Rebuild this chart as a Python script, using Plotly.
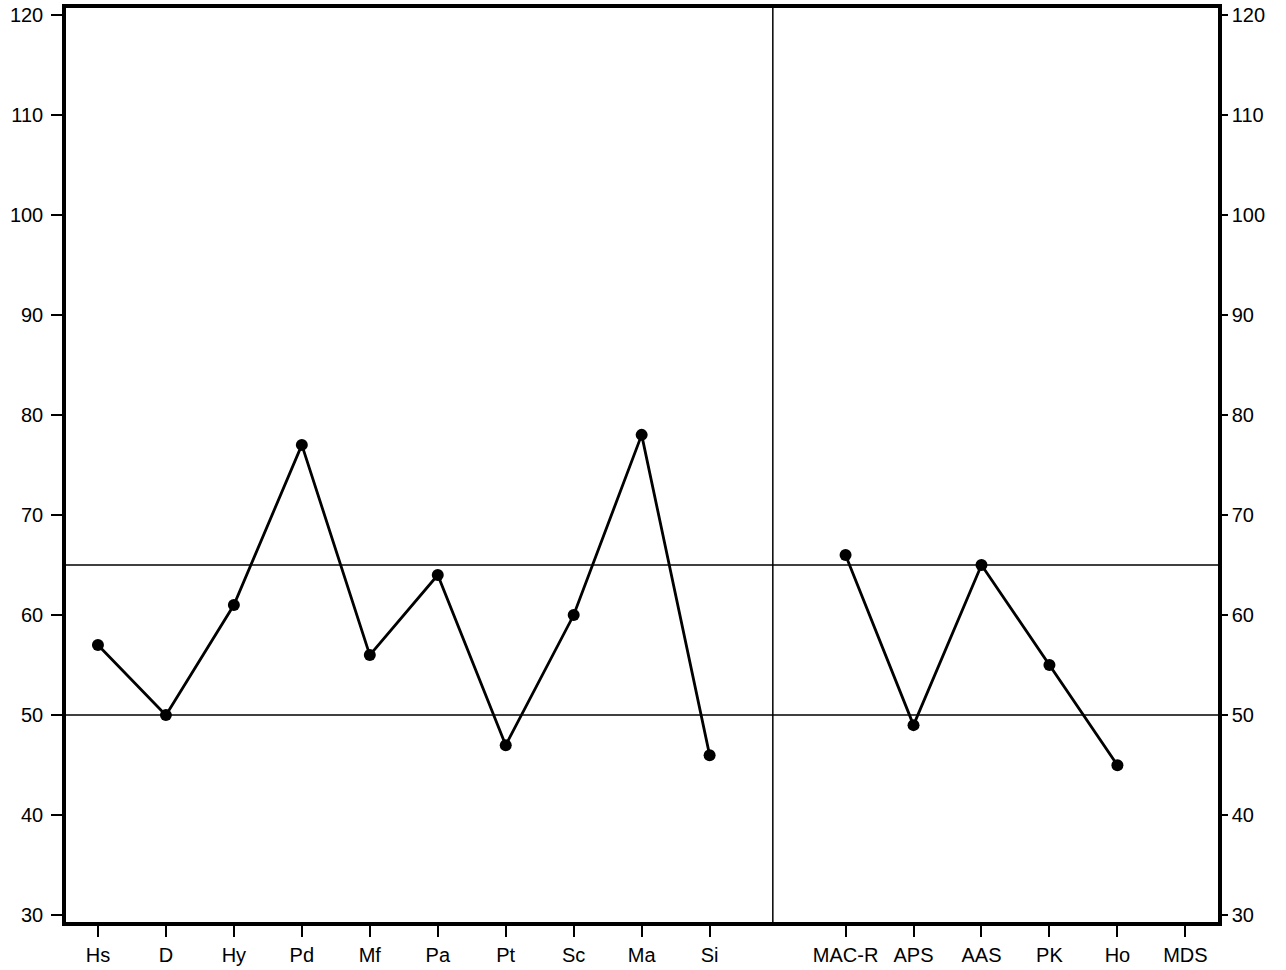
import plotly.graph_objects as go

# profile scales, left block and right block split by a blank slot
categories = ["Hs", "D", "Hy", "Pd", "Mf", "Pa", "Pt", "Sc", "Ma", "Si",
              "", "MAC-R", "APS", "AAS", "PK", "Ho", "MDS"]
left_scores = [57, 50, 61, 77, 56, 64, 47, 60, 78, 46]
right_scores = [66, 49, 65, 55, 45]
y_ticks = [30, 40, 50, 60, 70, 80, 90, 100, 110, 120]
ref_lines = [50, 65]

pos = list(range(len(categories)))
left_x = pos[:len(left_scores)]
right_x = pos[11:11 + len(right_scores)]
label_x = [p for p, c in zip(pos, categories) if c]
label_text = [c for c in categories if c]

font = dict(family="Liberation Sans, Arial, sans-serif", size=20, color="black")
line_style = dict(color="black", width=2.8)
marker_style = dict(color="black", size=12)

fig = go.Figure()
fig.add_trace(go.Scatter(x=left_x, y=left_scores, mode="lines+markers",
                         line=line_style, marker=marker_style, showlegend=False))
fig.add_trace(go.Scatter(x=right_x, y=right_scores, mode="lines+markers",
                         line=line_style, marker=marker_style, showlegend=False))
# dummy trace so the right axis is drawn
fig.add_trace(go.Scatter(x=[0], y=[30], yaxis="y2", mode="markers",
                         marker=dict(opacity=0), showlegend=False, hoverinfo="skip"))

for v in ref_lines:
    fig.add_shape(type="line", xref="paper", x0=0, x1=1, yref="y", y0=v, y1=v,
                  line=dict(color="black", width=1.5))
fig.add_shape(type="line", xref="x", x0=9.93, x1=9.93, yref="paper", y0=0, y1=1,
              line=dict(color="black", width=1.5))

yr = [29.33, 120.65]
fig.update_layout(
    width=1286, height=970,
    margin=dict(l=66, r=68, t=8, b=48),
    paper_bgcolor="white", plot_bgcolor="white",
    font=font,
    xaxis=dict(range=[-0.47, 16.48], tickvals=label_x, ticktext=label_text,
               showgrid=False, zeroline=False, showline=True, mirror=True,
               linecolor="black", linewidth=3.5, ticks="outside", ticklen=11,
               tickwidth=1.5, tickcolor="black", ticklabelstandoff=1,
               automargin=False, ticklabeloverflow="allow"),
    yaxis=dict(range=yr, tickvals=y_ticks, showgrid=False, zeroline=False,
               showline=True, linecolor="black", linewidth=3.5, ticks="outside",
               ticklen=11, tickwidth=1.5, tickcolor="black", ticklabelstandoff=4,
               automargin=False, ticklabeloverflow="allow"),
    yaxis2=dict(range=yr, tickvals=y_ticks, overlaying="y", side="right",
                showgrid=False, zeroline=False, showline=True, linecolor="black",
                linewidth=3.5, ticks="outside", ticklen=6, tickwidth=1.5,
                tickcolor="black", ticklabelstandoff=0, automargin=False,
                ticklabeloverflow="allow"),
)

# drop the default 8px body margin so the figure fills the window exactly
fig.write_html("out.html", config={"displayModeBar": False},
               post_script="document.body.style.margin = '0';")
